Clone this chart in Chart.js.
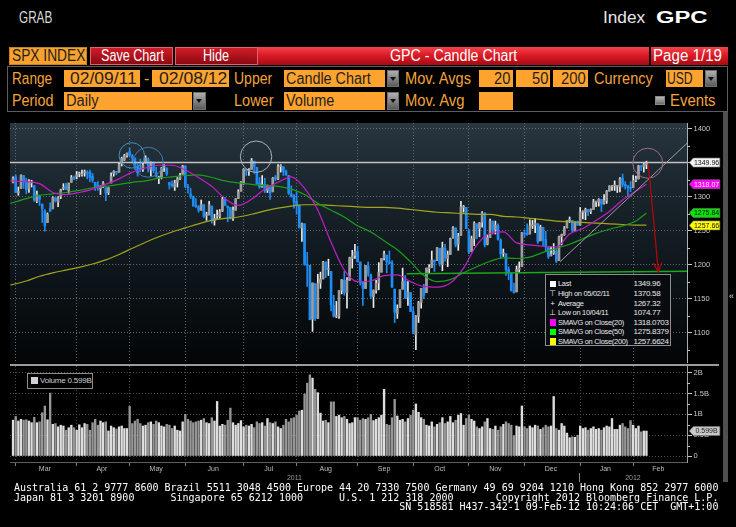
<!DOCTYPE html>
<html lang="en">
<head>
<meta charset="UTF-8">
<title>GPC - Candle Chart</title>
<script src="https://cdn.jsdelivr.net/npm/chart.js"></script>
<style>
  html, body { margin: 0; padding: 0; background: #000; }
  body { position: relative; width: 736px; height: 527px; overflow: hidden; font-family: "Liberation Sans", Arial, sans-serif; }
  .t { position: absolute; white-space: nowrap; font-size: 16px; line-height: 16px; transform-origin: 0 0; }
  .box { position: absolute; box-sizing: border-box; }
  .lbl { color: #f4a33a; }
  .dark { color: #1e1e1e; }
  .fld { background: #ffa32f; }
  .drop { background: linear-gradient(#b0b0b0, #5a5a5a); border: 1px solid #6e6e6e; }
  .drop::after { content: ""; position: absolute; left: 50%; top: 50%; margin: -2px 0 0 -3px; border-left: 3px solid transparent; border-right: 3px solid transparent; border-top: 4px solid #111; }
  .btn { background: linear-gradient(#cf1d29, #8c0911); border: 1px solid #e4606a; }
  .bar { background: linear-gradient(#f5444d 0%, #dc1b26 45%, #a50b14 100%); }
  canvas { position: absolute; }
  #lgd { position: absolute; left: 545px; top: 274px; width: 126px; height: 72px; box-sizing: border-box; border: 1px solid #8e8e8e; background: #080c10; font-size: 8px; color: #e8e8e8; letter-spacing: -0.3px; }
  #lgd .row { position: absolute; left: 0; height: 9.6px; line-height: 9.6px; white-space: nowrap; }
  #lgd .ic { position: absolute; left: 3px; width: 7px; text-align: center; }
  #lgd .sq { position: absolute; left: 3.5px; top: 1.4px; width: 6.5px; height: 6.5px; }
  #lgd .nm { position: absolute; left: 12px; transform: scaleX(0.93); transform-origin: 0 0; }
  #lgd .vl { position: absolute; left: 87.5px; }
  #vlgd { position: absolute; left: 27px; top: 373px; width: 66px; height: 16px; box-sizing: border-box; border: 1px solid #8a8a8a; background: #000; font-size: 8px; color: #d0d0d0; line-height: 14px; white-space: nowrap; letter-spacing: -0.2px; }
  #foot { position: absolute; left: 14px; top: 482.8px; margin: 0; font-family: "DejaVu Sans Mono", monospace; font-size: 10px; line-height: 9.7px; color: #fff; }
</style>
</head>
<body>

<!-- top bar -->
<div class="t" data-w="33" style="left:19px;top:9.8px;color:#dadada">GRAB</div>
<div class="t" data-w="42" style="left:603px;top:9.8px;color:#e8e8e8">Index</div>
<div class="t" data-w="52" style="left:656px;top:9.8px;color:#fff;font-weight:bold">GPC</div>

<!-- header row -->
<div class="box" style="left:9px;top:47px;width:78px;height:18px;background:#f7a12f;border:1px solid #c9801f"></div>
<div class="t dark" data-w="73" style="left:11.7px;top:48.1px">SPX INDEX</div>
<div class="box btn" style="left:90px;top:47px;width:83px;height:18px"></div>
<div class="t" data-w="63" style="left:101px;top:48.1px;color:#fff">Save Chart</div>
<div class="box btn" style="left:174.5px;top:47px;width:83px;height:18px"></div>
<div class="t" data-w="26" style="left:202.8px;top:48.1px;color:#fff">Hide</div>
<div class="box bar" style="left:258px;top:47px;width:391px;height:18px"></div>
<div class="t" data-w="127" style="left:389.7px;top:48.1px;color:#fff">GPC - Candle Chart</div>
<div class="box bar" style="left:650.5px;top:47px;width:77px;height:18px"></div>
<div class="t" data-w="69" style="left:652.6px;top:48.1px;color:#fff">Page 1/19</div>

<!-- settings -->
<div class="box" style="left:7px;top:66px;width:721px;height:46px;border:1px solid #5c5c5c"></div>
<div class="t lbl" data-w="40" style="left:11.7px;top:71.1px">Range</div>
<div class="box fld" style="left:64px;top:70px;width:76px;height:17px"></div>
<div class="t dark" data-w="66.5" style="left:69.5px;top:71.1px">02/09/11</div>
<div class="t lbl" style="left:144px;top:71.1px">-</div>
<div class="box fld" style="left:151.6px;top:70px;width:77.4px;height:17px"></div>
<div class="t dark" data-w="68" style="left:158.7px;top:71.1px">02/08/12</div>
<div class="t lbl" data-w="38.5" style="left:233.8px;top:71.1px">Upper</div>
<div class="box fld" style="left:284px;top:70px;width:101px;height:17px"></div>
<div class="t dark" data-w="84.5" style="left:286.4px;top:71.1px">Candle Chart</div>
<div class="box drop" style="left:387.3px;top:70px;width:11.7px;height:17px"></div>
<div class="t lbl" data-w="65.7" style="left:404.7px;top:71.1px">Mov. Avgs</div>
<div class="box fld" style="left:479px;top:70px;width:34px;height:17px"></div>
<div class="t dark" data-w="16.5" style="left:494.3px;top:71.1px">20</div>
<div class="box fld" style="left:516.4px;top:70px;width:33.8px;height:17px"></div>
<div class="t dark" data-w="16.5" style="left:531.9px;top:71.1px">50</div>
<div class="box fld" style="left:553px;top:70px;width:34.8px;height:17px"></div>
<div class="t dark" data-w="25" style="left:560.5px;top:71.1px">200</div>
<div class="t lbl" data-w="58.7" style="left:593.9px;top:71.1px">Currency</div>
<div class="box fld" style="left:665.7px;top:70px;width:37px;height:17px"></div>
<div class="t dark" data-w="25.8" style="left:666.7px;top:71.1px">USD</div>
<div class="box drop" style="left:705px;top:70px;width:12.4px;height:17px"></div>

<div class="t lbl" data-w="41.3" style="left:11.7px;top:92.8px">Period</div>
<div class="box fld" style="left:64px;top:92px;width:127.5px;height:18px"></div>
<div class="t dark" data-w="32.9" style="left:65.7px;top:92.8px">Daily</div>
<div class="box drop" style="left:193.4px;top:92px;width:12.2px;height:18px"></div>
<div class="t lbl" data-w="39.9" style="left:233.8px;top:92.8px">Lower</div>
<div class="box fld" style="left:284px;top:92px;width:101px;height:18px"></div>
<div class="t dark" data-w="47.9" style="left:286.4px;top:92.8px">Volume</div>
<div class="box drop" style="left:387.3px;top:92px;width:11.7px;height:18px"></div>
<div class="t lbl" data-w="59.1" style="left:404.7px;top:92.8px">Mov. Avg</div>
<div class="box fld" style="left:479px;top:92px;width:34px;height:18px"></div>
<div class="box" style="left:655px;top:95.5px;width:10px;height:9px;background:linear-gradient(#b8b8b8,#6a6a6a);border:1px solid #888"></div>
<div class="t lbl" data-w="45.6" style="left:670.4px;top:92.8px">Events</div>

<!-- chart panels -->
<canvas id="priceChart" width="720" height="240" style="left:10px;top:123px"></canvas>
<div class="box" style="left:10px;top:363.5px;width:709px;height:2.5px;background:#9c9c9c"></div>
<canvas id="volumeChart" width="720" height="120" style="left:10px;top:366px"></canvas>

<div id="lgd"></div>
<div id="vlgd"><span style="display:inline-block;width:7px;height:7px;background:#d0d0d0;margin:0 2px 0 3px;vertical-align:-0.5px"></span><span id="vtxt"></span></div>

<div class="box" style="left:722.5px;top:112px;width:5px;height:370px;background:#4f4f4f"></div>
<div class="t" style="left:729px;top:292px;font-size:9px;line-height:9px;color:#ddd">«</div>

<pre id="foot">Australia 61 2 9777 8600 Brazil 5511 3048 4500 Europe 44 20 7330 7500 Germany 49 69 9204 1210 Hong Kong 852 2977 6000
Japan 81 3 3201 8900      Singapore 65 6212 1000      U.S. 1 212 318 2000       Copyright 2012 Bloomberg Finance L.P.
                                                                SN 518581 H437-342-1 09-Feb-12 10:24:06 CET  GMT+1:00</pre>

<script>
    // ---- daily SPX candles, 28 Feb 2011 .. 08 Feb 2012 (index 0 = Feb 28) ----
    const opens = [
        1321,
        // Mar
        1329, 1305, 1312, 1331, 1323, 1311, 1320, 1316, 1293, 1301, 1289, 1279, 1262, 1282, 1282, 1298, 1292, 1300, 1312, 1316, 1309, 1321, 1327,
        // Apr
        1329, 1333, 1332, 1335, 1335, 1336, 1330, 1321, 1317, 1311, 1315, 1313, 1306, 1320, 1334, 1337, 1336, 1348, 1354, 1360,
        // May
        1366, 1360, 1356, 1345, 1341, 1340, 1349, 1355, 1339, 1349, 1335, 1327, 1328, 1342, 1342, 1321, 1318, 1314, 1321, 1326, 1333,
        // Jun
        1345, 1314, 1304, 1300, 1287, 1285, 1280, 1288, 1272, 1273, 1286, 1265, 1271, 1271, 1279, 1295, 1286, 1284, 1268, 1280, 1297, 1308,
        // Jul
        1320, 1340, 1337, 1340, 1352, 1343, 1320, 1314, 1318, 1309, 1316, 1307, 1328, 1326, 1344, 1344, 1337, 1331, 1304, 1301,
        // Aug
        1293, 1287, 1254, 1260, 1200, 1199, 1120, 1172, 1121, 1173, 1179, 1204, 1193, 1190, 1140, 1124, 1124, 1162, 1177, 1159, 1177, 1209, 1213,
        // Sep
        1219, 1204, 1174, 1165, 1198, 1185, 1153, 1162, 1173, 1189, 1209, 1214, 1204, 1203, 1164, 1128, 1137, 1164, 1176, 1152, 1159,
        // Oct
        1131, 1097, 1124, 1144, 1166, 1159, 1194, 1196, 1206, 1206, 1224, 1200, 1224, 1209, 1215, 1239, 1254, 1230, 1243, 1284, 1284,
        // Nov
        1251, 1219, 1238, 1260, 1253, 1262, 1276, 1230, 1240, 1264, 1251, 1257, 1236, 1216, 1216, 1193, 1187, 1162, 1160, 1193, 1197,
        // Dec
        1246, 1246, 1245, 1257, 1258, 1260, 1235, 1255, 1237, 1225, 1213, 1217, 1220, 1206, 1241, 1244, 1254, 1265, 1265, 1250, 1263,
        // Jan
        1258, 1277, 1277, 1281, 1278, 1281, 1292, 1292, 1296, 1290, 1294, 1308, 1315, 1316, 1315, 1315, 1327, 1318, 1316, 1313,
        // Feb
        1313, 1324, 1326, 1345, 1344, 1347
    ];
    const highs = [
        1329,
        1332, 1314, 1332, 1331, 1327, 1325, 1324, 1316, 1308, 1302, 1289, 1281, 1276, 1291, 1300, 1299, 1300, 1311, 1319, 1320, 1320, 1331, 1330,
        1337, 1336, 1339, 1339, 1338, 1339, 1334, 1321, 1322, 1316, 1322, 1313, 1313, 1335, 1338, 1337, 1349, 1358, 1362, 1364,
        1371, 1362, 1357, 1349, 1355, 1349, 1360, 1357, 1351, 1351, 1343, 1330, 1343, 1347, 1342, 1321, 1323, 1324, 1328, 1334, 1346,
        1345, 1318, 1312, 1301, 1297, 1287, 1295, 1288, 1277, 1293, 1286, 1274, 1280, 1281, 1299, 1299, 1286, 1284, 1285, 1297, 1310, 1322,
        1341, 1340, 1341, 1356, 1352, 1343, 1328, 1331, 1327, 1317, 1316, 1328, 1331, 1347, 1347, 1344, 1339, 1331, 1316, 1303,
        1307, 1288, 1261, 1260, 1218, 1199, 1173, 1172, 1186, 1189, 1205, 1204, 1208, 1190, 1155, 1146, 1162, 1178, 1190, 1181, 1211, 1221, 1230,
        1227, 1204, 1174, 1199, 1204, 1186, 1163, 1177, 1203, 1209, 1220, 1214, 1220, 1206, 1164, 1141, 1163, 1195, 1184, 1175, 1159,
        1138, 1125, 1146, 1165, 1171, 1195, 1200, 1220, 1207, 1225, 1224, 1233, 1230, 1220, 1239, 1256, 1254, 1246, 1293, 1287, 1284,
        1251, 1242, 1263, 1260, 1262, 1278, 1276, 1244, 1267, 1264, 1264, 1260, 1238, 1223, 1216, 1197, 1187, 1173, 1198, 1204, 1247,
        1251, 1260, 1266, 1265, 1268, 1260, 1258, 1255, 1249, 1225, 1226, 1231, 1224, 1242, 1245, 1256, 1265, 1270, 1265, 1263, 1264,
        1284, 1279, 1283, 1281, 1282, 1296, 1293, 1297, 1296, 1303, 1309, 1316, 1316, 1323, 1316, 1328, 1333, 1322, 1316, 1322,
        1331, 1330, 1346, 1345, 1349, 1352
    ];
    const lows = [
        1320,
        1306, 1302, 1312, 1312, 1304, 1306, 1314, 1293, 1291, 1287, 1262, 1249, 1262, 1278, 1282, 1292, 1285, 1297, 1310, 1310, 1305, 1321, 1325,
        1326, 1329, 1330, 1330, 1326, 1322, 1321, 1309, 1309, 1303, 1313, 1294, 1303, 1320, 1330, 1332, 1336, 1345, 1353, 1358,
        1358, 1349, 1340, 1330, 1336, 1337, 1349, 1336, 1330, 1335, 1329, 1319, 1326, 1337, 1331, 1311, 1314, 1309, 1314, 1325, 1333,
        1313, 1305, 1297, 1286, 1284, 1277, 1280, 1269, 1265, 1273, 1261, 1258, 1268, 1268, 1278, 1287, 1263, 1267, 1265, 1280, 1297, 1308,
        1318, 1331, 1331, 1340, 1334, 1318, 1312, 1314, 1306, 1306, 1296, 1307, 1323, 1325, 1336, 1331, 1331, 1303, 1299, 1283,
        1274, 1254, 1234, 1199, 1168, 1119, 1102, 1118, 1121, 1165, 1179, 1181, 1184, 1132, 1123, 1122, 1121, 1157, 1155, 1136, 1177, 1195, 1209,
        1204, 1170, 1140, 1165, 1183, 1150, 1137, 1158, 1163, 1189, 1207, 1188, 1201, 1166, 1115, 1121, 1137, 1164, 1150, 1140, 1131,
        1099, 1075, 1115, 1136, 1150, 1159, 1187, 1196, 1190, 1206, 1198, 1191, 1205, 1197, 1215, 1239, 1226, 1221, 1243, 1277, 1253,
        1216, 1219, 1228, 1238, 1241, 1255, 1226, 1229, 1240, 1245, 1245, 1236, 1209, 1212, 1184, 1178, 1161, 1158, 1160, 1188, 1197,
        1240, 1243, 1245, 1253, 1247, 1231, 1235, 1227, 1219, 1209, 1213, 1215, 1203, 1206, 1229, 1243, 1254, 1262, 1248, 1250, 1258,
        1258, 1267, 1266, 1272, 1275, 1281, 1285, 1286, 1278, 1289, 1290, 1308, 1309, 1309, 1306, 1307, 1314, 1311, 1301, 1307,
        1313, 1322, 1326, 1338, 1336, 1341
    ];
    const closes = [
        1327,
        1306, 1308, 1331, 1321, 1310, 1322, 1320, 1295, 1304, 1296, 1282, 1257, 1274, 1279, 1298, 1294, 1298, 1310, 1314, 1310, 1319, 1328, 1326,
        1332, 1333, 1333, 1336, 1334, 1328, 1324, 1314, 1314, 1315, 1320, 1305, 1313, 1330, 1337, 1335, 1347, 1356, 1360, 1364,
        1361, 1357, 1347, 1335, 1340, 1346, 1357, 1342, 1349, 1338, 1329, 1329, 1341, 1344, 1333, 1317, 1316, 1320, 1326, 1331, 1345,
        1315, 1313, 1300, 1286, 1285, 1280, 1289, 1271, 1272, 1288, 1265, 1268, 1272, 1278, 1296, 1287, 1284, 1268, 1280, 1297, 1307, 1321,
        1340, 1338, 1339, 1353, 1344, 1319, 1314, 1318, 1309, 1316, 1305, 1327, 1326, 1344, 1345, 1337, 1332, 1305, 1301, 1292,
        1287, 1254, 1260, 1200, 1199, 1119, 1173, 1121, 1173, 1179, 1204, 1193, 1194, 1141, 1124, 1124, 1162, 1178, 1159, 1177, 1210, 1213, 1219,
        1204, 1174, 1165, 1199, 1186, 1154, 1162, 1173, 1189, 1209, 1216, 1204, 1202, 1167, 1130, 1136, 1163, 1175, 1151, 1160, 1131,
        1099, 1124, 1144, 1165, 1155, 1195, 1196, 1207, 1204, 1225, 1201, 1225, 1210, 1215, 1238, 1254, 1229, 1242, 1285, 1285, 1253,
        1218, 1238, 1261, 1253, 1261, 1276, 1229, 1240, 1264, 1252, 1258, 1237, 1216, 1216, 1193, 1188, 1162, 1159, 1193, 1195, 1247,
        1245, 1244, 1257, 1258, 1261, 1234, 1255, 1236, 1226, 1212, 1216, 1220, 1205, 1241, 1244, 1254, 1265, 1265, 1250, 1263, 1258,
        1277, 1277, 1281, 1278, 1281, 1292, 1292, 1296, 1289, 1294, 1308, 1315, 1315, 1316, 1315, 1326, 1318, 1316, 1313, 1312,
        1324, 1326, 1345, 1344, 1347, 1350
    ];
    // volume, billions
    const volumes = [
        0.86,
        0.95, 0.84, 0.88, 0.86, 0.87, 0.84, 0.80, 0.93, 0.80, 0.82, 1.04, 1.20, 0.87, 1.51, 0.76, 0.78, 0.70, 0.74, 0.72, 0.62, 0.68, 0.74, 0.68,
        0.62, 0.75, 0.68, 0.78, 0.76, 0.62, 0.80, 0.88, 0.74, 0.84, 0.80, 0.82, 0.60, 0.72, 0.68, 0.65, 0.70, 0.72, 0.66, 0.66,
        1.19, 0.78, 0.84, 0.88, 0.78, 0.72, 0.74, 0.80, 0.82, 0.76, 0.84, 0.80, 0.72, 0.70, 0.76, 0.74, 0.66, 0.72, 0.62, 0.60, 0.82,
        1.00, 0.88, 0.84, 0.80, 0.82, 0.84, 0.86, 0.90, 0.80, 0.78, 0.92, 0.84, 1.31, 0.72, 0.76, 0.74, 0.86, 1.15, 0.80, 0.74, 0.78, 0.85,
        0.70, 0.74, 0.72, 0.76, 0.68, 0.82, 0.78, 0.80, 0.72, 0.90, 0.80, 0.78, 0.82, 0.70, 0.66, 0.74, 0.88, 0.82, 0.90, 0.92,
        0.98, 1.08, 1.10, 1.49, 1.75, 1.95, 1.87, 1.60, 1.52, 1.03, 0.84, 0.86, 0.80, 1.30, 1.30, 0.95, 0.98, 0.92, 0.95, 0.88, 0.78, 0.80, 0.92,
        0.92, 0.86, 0.90, 0.88, 0.92, 1.00, 0.85, 0.88, 0.92, 0.98, 1.60, 0.76, 0.74, 0.92, 1.36, 0.96, 0.86, 0.88, 0.82, 0.90, 0.98,
        1.10, 1.25, 1.05, 0.92, 0.88, 0.74, 0.72, 0.82, 0.70, 0.76, 0.80, 0.92, 0.78, 0.82, 0.95, 0.80, 0.86, 0.98, 1.02, 0.74, 0.90,
        0.98, 0.88, 0.84, 0.70, 0.66, 0.70, 0.82, 0.90, 0.66, 0.64, 0.72, 0.62, 0.70, 0.76, 0.82, 0.78, 0.74, 0.49, 0.72, 0.70, 1.20,
        0.70, 0.66, 0.72, 0.68, 0.74, 0.72, 0.64, 0.68, 0.74, 0.70, 0.72, 1.43, 0.66, 0.62, 0.78, 0.72, 0.55, 0.44, 0.46, 0.45, 0.50,
        0.72, 0.66, 0.68, 0.62, 0.66, 0.70, 0.64, 0.66, 0.62, 0.68, 0.72, 0.70, 0.90, 0.64, 0.64, 0.74, 0.78, 0.70, 0.66, 0.85,
        0.74, 0.66, 0.72, 0.58, 0.60, 0.599
    ];

    const smaIdx = [-1, 5, 10, 15, 20, 25, 30, 35, 40, 45, 50, 55, 60, 65, 70, 75, 80, 85, 90, 95, 100, 105, 110, 115, 120,
        125, 130, 135, 140, 145, 150, 155, 160, 165, 170, 175, 180, 185, 190, 195, 200, 205, 210, 215, 220, 225, 230, 235, 239];
    const sma20 = [1323, 1322, 1319, 1306, 1303, 1306, 1311, 1318, 1326, 1336, 1342, 1346, 1346, 1339, 1328, 1315, 1297, 1287, 1296, 1311, 1321, 1329, 1312, 1280, 1233,
        1192, 1175, 1176, 1184, 1185, 1175, 1168, 1167, 1173, 1195, 1229, 1246, 1248, 1232, 1229, 1227, 1226, 1245, 1253, 1265, 1278, 1295, 1308, 1318];
    const sma50 = [1290, 1297, 1302, 1304, 1306, 1309, 1313, 1315, 1318, 1321, 1323, 1327, 1329, 1331, 1332, 1328, 1323, 1320, 1318, 1316, 1315, 1311, 1303, 1290, 1280,
        1270, 1257, 1248, 1235, 1222, 1204, 1184, 1175, 1178, 1188, 1197, 1205, 1210, 1209, 1211, 1218, 1224, 1230, 1238, 1246, 1252, 1257, 1264, 1276];
    const sma200 = [1170, 1176, 1183, 1188, 1192, 1196, 1201, 1207, 1215, 1224, 1233, 1241, 1248, 1254, 1260, 1265, 1268, 1270, 1274, 1279, 1283, 1286, 1288, 1288, 1287,
        1286, 1285, 1284, 1284, 1283, 1281, 1279, 1277, 1276, 1275, 1274, 1274, 1271, 1270, 1268, 1266, 1264, 1263, 1262, 1261, 1260, 1259, 1258, 1258];

    const priceTicks = [1100, 1150, 1200, 1250, 1300, 1350, 1400];
    const volumeTicks = [0, 0.5, 1, 1.5, 2];
    const monthNames = ['Mar', 'Apr', 'May', 'Jun', 'Jul', 'Aug', 'Sep', 'Oct', 'Nov', 'Dec', 'Jan', 'Feb'];
    const monthStarts = [1, 24, 44, 65, 87, 107, 130, 151, 172, 193, 214, 234]; // first session of each month
    const febEnd = 253;
    const yearNames = ['2011', '2012'];

    const statLabels = ['Last', 'High on 05/02/11', 'Average', 'Low on 10/04/11', 'SMAVG on Close(20)', 'SMAVG on Close(50)', 'SMAVG on Close(200)'];
    const statValues = ['1349.96', '1370.58', '1267.32', '1074.77', '1318.0703', '1275.8379', '1257.6624'];

    // drawn-on annotations (session index, price)
    const circles = [
        { x: 44.8, y: 1360.5, r: 12.7, color: '#3a91c6' },
        { x: 51.0, y: 1350.5, r: 15, color: '#4a76ad' },
        { x: 91.7, y: 1358.6, r: 15.7, color: '#b0b0b0' },
        { x: 239.5, y: 1349.0, r: 15, color: '#9a6d8e' }
    ];
    const trendLine = [[206.4, 1204.3], [254.3, 1378.3]];
    const supportLine = [[148.5, 1186.5], [254.3, 1190.2]];
    const arrowLine = [[239.7, 1348.0], [243.5, 1189.6]];

    const xMin = -1.15, xMax = 254.3;
    const yearSplit = monthStarts[10] - 0.5;

    if (![opens, highs, lows, volumes].every(a => a.length === closes.length)) {
        console.error('array lengths differ', opens.length, highs.length, lows.length, closes.length, volumes.length);
    }

    const monthMids = monthStarts.map((s, i) => (s + (i + 1 < monthStarts.length ? monthStarts[i + 1] - 1 : febEnd)) / 2);
    const yearMids = [(xMin + yearSplit) / 2, (yearSplit + xMax) / 2];
    const isUp = i => closes[i] >= opens[i];
    const FONT = '"Liberation Sans", Arial, sans-serif';

    Chart.defaults.font.family = FONT;

    // ---- legend boxes ----
    const legendIcons = ['#ffffff', '⊤', '+', '⊥', '#ff00ff', '#00ff00', '#ffff00'];
    const lgd = document.getElementById('lgd');
    statLabels.forEach((name, i) => {
        const row = document.createElement('div');
        row.className = 'row';
        row.style.top = (4.3 + i * 9.6) + 'px';
        row.style.width = '100%';
        const ic = legendIcons[i];
        const icon = ic.startsWith('#')
            ? `<span class="sq" style="background:${ic}"></span>`
            : `<span class="ic">${ic}</span>`;
        row.innerHTML = `${icon}<span class="nm">${name}</span><span class="vl">${statValues[i]}</span>`;
        lgd.appendChild(row);
    });
    const volLast = volumes[volumes.length - 1].toFixed(3) + 'B';
    document.getElementById('vtxt').textContent = 'Volume ' + volLast;

    // ---- plugins ----
    const panelBg = {
        id: 'panelBg',
        beforeDraw(chart, args, opts) {
            if (!opts.stops) return;
            const { ctx, chartArea: a } = chart;
            const g = ctx.createLinearGradient(0, a.top, 0, a.bottom);
            opts.stops.forEach(s => g.addColorStop(s[0], s[1]));
            ctx.save();
            ctx.fillStyle = g;
            ctx.fillRect(a.left, a.top, a.right - a.left, a.bottom - a.top);
            ctx.restore();
        }
    };

    function drawTag(ctx, x0, yy, text, bg, fg) {
        const h = 9, w = 30.5;
        ctx.beginPath();
        ctx.moveTo(x0, yy);
        ctx.lineTo(x0 + 4, yy - h / 2);
        ctx.lineTo(x0 + w, yy - h / 2);
        ctx.lineTo(x0 + w, yy + h / 2);
        ctx.lineTo(x0 + 4, yy + h / 2);
        ctx.closePath();
        ctx.fillStyle = bg;
        ctx.fill();
        ctx.strokeStyle = '#777';
        ctx.lineWidth = 0.6;
        ctx.stroke();
        ctx.fillStyle = fg;
        ctx.font = '7px ' + FONT;
        ctx.textAlign = 'center';
        ctx.textBaseline = 'middle';
        ctx.fillText(text, x0 + 4 + (w - 4) / 2, yy + 0.5, w - 5);
    }

    function minorTicks(ctx, scale, values, right) {
        ctx.strokeStyle = '#bdbdbd';
        ctx.lineWidth = 1;
        values.forEach(v => {
            const py = Math.round(scale.getPixelForValue(v)) + 0.5;
            ctx.beginPath();
            ctx.moveTo(right, py);
            ctx.lineTo(right + 3, py);
            ctx.stroke();
        });
    }

    const priceMarks = {
        id: 'priceMarks',
        afterDatasetsDraw(chart) {
            const { ctx, chartArea: a, scales: { x, y } } = chart;
            const px = p => [x.getPixelForValue(p[0]), y.getPixelForValue(p[1])];
            const seg = (p, q, color, width) => {
                const [x1, y1] = px(p), [x2, y2] = px(q);
                ctx.strokeStyle = color;
                ctx.lineWidth = width;
                ctx.beginPath();
                ctx.moveTo(x1, y1);
                ctx.lineTo(x2, y2);
                ctx.stroke();
            };
            ctx.save();
            ctx.beginPath();
            ctx.rect(a.left, a.top, a.right - a.left, a.bottom - a.top);
            ctx.clip();
            const last = parseFloat(statValues[0]);
            seg([xMin, last], [xMax, last], '#c2c2c2', 1.5);
            seg(supportLine[0], supportLine[1], '#1ea61e', 1.5);
            seg(trendLine[0], trendLine[1], '#9c9c9c', 1);
            circles.forEach(c => {
                ctx.strokeStyle = c.color;
                ctx.lineWidth = 1;
                ctx.beginPath();
                ctx.arc(x.getPixelForValue(c.x), y.getPixelForValue(c.y), c.r, 0, Math.PI * 2);
                ctx.stroke();
            });
            // red arrow
            seg(arrowLine[0], arrowLine[1], '#b00808', 1.3);
            const [ax1, ay1] = px(arrowLine[0]), [ax2, ay2] = px(arrowLine[1]);
            const ang = Math.atan2(ay2 - ay1, ax2 - ax1);
            ctx.beginPath();
            ctx.moveTo(ax2 - 10 * Math.cos(ang - 0.45), ay2 - 10 * Math.sin(ang - 0.45));
            ctx.lineTo(ax2, ay2);
            ctx.lineTo(ax2 - 10 * Math.cos(ang + 0.45), ay2 - 10 * Math.sin(ang + 0.45));
            ctx.stroke();
            ctx.restore();
        },
        afterDraw(chart) {
            const { ctx, chartArea: a, scales: { y } } = chart;
            ctx.save();
            minorTicks(ctx, y, priceTicks.map(v => v - 25).concat([1375]), a.right);
            const tags = [
                [statValues[0], '#f2f2f2', '#111'],
                [statValues[4], '#ff00ff', '#fff'],
                [statValues[5], '#00e400', '#111'],
                [statValues[6], '#ffff00', '#111']
            ];
            tags.forEach(([v, bg, fg]) => {
                const val = parseFloat(v);
                drawTag(ctx, a.right + 2.3, y.getPixelForValue(val), val.toFixed(2), bg, fg);
            });
            ctx.restore();
        }
    };

    const volumeMarks = {
        id: 'volumeMarks',
        afterDraw(chart) {
            const { ctx, chartArea: a, scales: { x, y } } = chart;
            ctx.save();
            minorTicks(ctx, y, [0.25, 0.75, 1.25, 1.75], a.right);
            const sx = Math.round(x.getPixelForValue(yearSplit)) + 0.5;
            ctx.strokeStyle = '#8a8a8a';
            ctx.beginPath();
            ctx.moveTo(sx, a.bottom + 11);
            ctx.lineTo(sx, a.bottom + 20);
            ctx.stroke();
            const v = volumes[volumes.length - 1];
            drawTag(ctx, a.right + 2.3, y.getPixelForValue(v), volLast, '#c9c9c9', '#222');
            ctx.restore();
        }
    };

    // keep Chart.js from insetting the plot for edge labels
    const noPad = s => { s.paddingTop = 0; s.paddingBottom = 0; s.paddingLeft = 0; s.paddingRight = 0; };
    const fitY = s => { s.width = 43; noPad(s); };
    const fitX = h => s => { s.height = h; noPad(s); };

    const tickFont = { family: FONT, size: 7.5 };
    const gridX = (color, tickLength) => ({
        type: 'linear', min: xMin, max: xMax, bounds: 'data', offset: false,
        afterBuildTicks: s => { s.ticks = monthStarts.map(v => ({ value: v })); },
        afterFit: fitX(0),
        ticks: { display: false },
        grid: { color: color, offset: false, drawTicks: tickLength > 0, tickLength: tickLength, tickColor: '#7a7a7a' },
        border: { display: tickLength > 0, color: '#5e5e5e', dash: [1, 2] }
    });

    // ---- price panel ----
    new Chart(document.getElementById('priceChart'), {
        type: 'bar',
        data: {
            datasets: [
                {
                    type: 'line', label: 'SMAVG on Close(20)', order: 0, xAxisID: 'x', yAxisID: 'y',
                    data: smaIdx.map((v, i) => ({ x: v, y: sma20[i] })),
                    borderColor: '#c21ec8', borderWidth: 1.2, pointRadius: 0, cubicInterpolationMode: 'monotone'
                },
                {
                    type: 'line', label: 'SMAVG on Close(50)', order: 0, xAxisID: 'x', yAxisID: 'y',
                    data: smaIdx.map((v, i) => ({ x: v, y: sma50[i] })),
                    borderColor: '#1c9c1c', borderWidth: 1.2, pointRadius: 0, cubicInterpolationMode: 'monotone'
                },
                {
                    type: 'line', label: 'SMAVG on Close(200)', order: 0, xAxisID: 'x', yAxisID: 'y',
                    data: smaIdx.map((v, i) => ({ x: v, y: sma200[i] })),
                    borderColor: '#a4a41c', borderWidth: 1.2, pointRadius: 0, cubicInterpolationMode: 'monotone'
                },
                {
                    label: 'Body', order: 1, xAxisID: 'x', yAxisID: 'y', grouped: false,
                    data: closes.map((c, i) => ({ x: i, y: [opens[i], c] })),
                    backgroundColor: ctx => isUp(ctx.dataIndex) ? '#9d9d9d' : '#1f8cf4',
                    barThickness: 2, minBarLength: 1
                },
                {
                    label: 'Wick', order: 2, xAxisID: 'x', yAxisID: 'y', grouped: false,
                    data: closes.map((c, i) => ({ x: i, y: [lows[i], highs[i]] })),
                    backgroundColor: ctx => isUp(ctx.dataIndex) ? '#ececec' : '#1f8cf4',
                    barThickness: 1
                }
            ]
        },
        options: {
            responsive: false, animation: false, devicePixelRatio: 1,
            layout: { padding: 0 },
            plugins: {
                legend: { display: false }, tooltip: { enabled: false },
                panelBg: { stops: [[0, '#293741'], [0.06, '#25323b'], [0.25, '#1b262e'], [0.5, '#121b21'], [0.75, '#0a1014'], [1, '#030506']] }
            },
            scales: {
                x: gridX('#5f6a72', 0),
                y: {
                    type: 'linear', position: 'right', min: 1055.5, max: 1408.1, bounds: 'data',
                    afterBuildTicks: s => { s.ticks = priceTicks.map(v => ({ value: v })); },
                    afterFit: fitY,
                    ticks: { color: '#c8c8c8', font: tickFont, padding: 1.5, callback: v => String(v) },
                    grid: { color: '#5f6a72', tickColor: '#c8c8c8', tickLength: 5 },
                    border: { display: true, color: '#a9afb3', dash: [1, 2] }
                }
            }
        },
        plugins: [panelBg, priceMarks]
    });

    // ---- volume panel ----
    new Chart(document.getElementById('volumeChart'), {
        type: 'bar',
        data: {
            datasets: [{
                label: 'Volume', xAxisID: 'x', yAxisID: 'y', grouped: false,
                data: volumes.map((v, i) => ({ x: i, y: v })),
                backgroundColor: ctx => isUp(ctx.dataIndex) ? '#dedede' : '#969696',
                barThickness: 1.7
            }]
        },
        options: {
            responsive: false, animation: false, devicePixelRatio: 1,
            layout: { padding: 0 },
            plugins: { legend: { display: false }, tooltip: { enabled: false } },
            scales: {
                x: Object.assign(gridX('#4e4e4e', 4), { weight: 0 }),
                xm: {
                    type: 'linear', position: 'bottom', weight: 1, min: xMin, max: xMax, bounds: 'data', offset: false,
                    afterBuildTicks: s => { s.ticks = monthMids.map(v => ({ value: v })); },
                    afterFit: fitX(11),
                    ticks: { color: '#bdbdbd', font: { family: FONT, size: 7 }, padding: 2.5, autoSkip: false, maxRotation: 0, callback: (v, i) => monthNames[i] },
                    grid: { display: false, drawTicks: false },
                    border: { display: false }
                },
                xy: {
                    type: 'linear', position: 'bottom', weight: 2, min: xMin, max: xMax, bounds: 'data', offset: false,
                    afterBuildTicks: s => { s.ticks = yearMids.map(v => ({ value: v })); },
                    afterFit: fitX(13),
                    ticks: { color: '#9a9a9a', font: { family: FONT, size: 7 }, padding: 1.2, autoSkip: false, maxRotation: 0, callback: (v, i) => yearNames[i] },
                    grid: { display: false, drawTicks: false },
                    border: { display: false }
                },
                y: {
                    type: 'linear', position: 'right', min: -0.144, max: 2.161, bounds: 'data',
                    afterBuildTicks: s => { s.ticks = volumeTicks.map(v => ({ value: v })); },
                    afterFit: fitY,
                    ticks: { color: '#c8c8c8', font: tickFont, padding: 1.5, callback: v => v === 0 ? '0' : v + 'B' },
                    grid: { color: '#545454', tickColor: '#c8c8c8', tickLength: 5 },
                    border: { display: true, color: '#a0a0a0', dash: [1, 2] }
                }
            }
        },
        plugins: [volumeMarks]
    });

    // squeeze header texts to the narrow terminal font widths
    function fitTexts() {
        document.querySelectorAll('[data-w]').forEach(el => {
            const w = el.offsetWidth;
            if (w) el.style.transform = 'scaleX(' + (parseFloat(el.dataset.w) / w) + ')';
        });
    }
    fitTexts();
    document.fonts.ready.then(fitTexts);
</script>
</body>
</html>
